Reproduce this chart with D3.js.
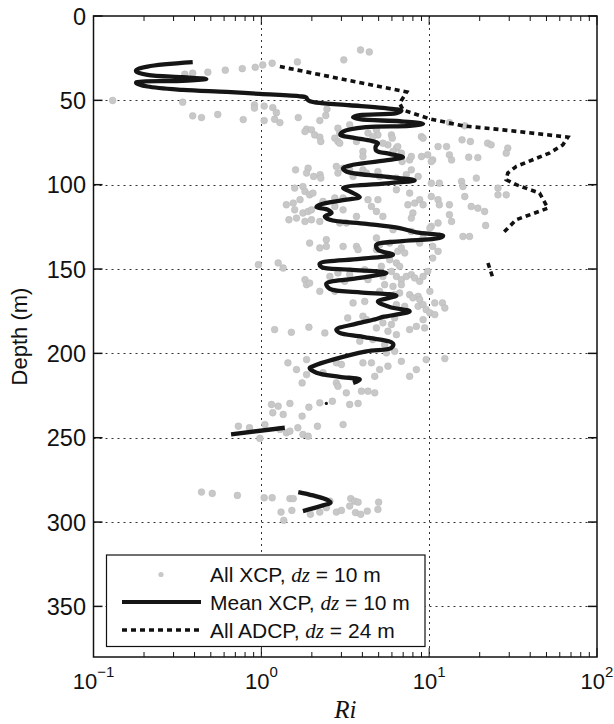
<!DOCTYPE html>
<html><head><meta charset="utf-8">
<script src="https://cdn.jsdelivr.net/npm/d3@7"></script>
<style>body{margin:0;background:#fff}svg{display:block}</style>
</head><body><svg id="c" width="614" height="724"></svg>
<script>
// ---------- data ----------
const xDomain = [0.1, 100];
const yDomain = [0, 380];
const xTickValues = [0.1, 1, 10, 100];
const xTickExps = ["\u22121", "0", "1", "2"];
const yTickValues = [0, 50, 100, 150, 200, 250, 300, 350];
const xGridValues = [1, 10];
const yGridValues = [50, 100, 150, 200, 250, 300, 350];
const legendLabels = ["All XCP, ", "Mean XCP, ", "All ADCP, "];
const legendTails = [" = 10 m", " = 10 m", " = 24 m"];

// All XCP points: [Ri, depth]
const xcpPoints = [
[3.9,20.1],[4.4,21.3],[3.1,26],[1.64,27.2],[1.16,28],[1.02,29],[0.92,30.4],[0.77,31.2],[0.61,32.1],[0.48,33.3],[0.39,33.9],[0.35,34.5],
[0.13,50.1],[0.34,51.1],[0.91,52.7],[0.91,54.6],[1.04,53.4],[1.17,54.3],[1.23,57.3],[1.29,63.2],[1.20,61.2],[1.04,62],[1.66,60.2],[2.23,62],[2.42,59],[2.46,55.2],[0.39,59.2],[0.44,60.2],[0.55,58.4],[0.78,61.4],
[1.86,67.1],[1.99,67.5],[2.08,70.5],[2.23,71.8],[2.26,74.4],[1.82,68.5],[2.86,66.5],[2.93,69.4],[2.74,72.4],[2.86,74.4],[2.93,75.4],[3.36,64.5],[4.32,69.4],[4.85,67.5],[4.95,70.5],[4.62,71.5],[5.96,70.5],[6.03,72.4],[5.68,76.4],[6.38,78.3],[6.09,80.3],[6.83,81.3],[6.9,86.3],[4.03,80.3],[4.03,83.3],[3.69,74.4],[5.3,75.4],[6.5,77.4],[7.65,85.3],[7.83,83.3],[8.99,71.5],[9.2,72.4],[9.0,83.3],[9.8,82.3],[10.5,85.3],[10.3,86.3],[11.3,77.4],[12.7,77.4],[13.2,82.3],[13.6,85.3],[15.7,73.4],[17.6,74.4],[17.2,83.7],[19.5,83.9],[13.2,63.2],[16.3,65.1],[22.3,75.4],[23.4,76.4],[29.4,78.3],[28.8,81.3],
[1.60,91.2],[1.90,90.2],[1.86,93.1],[2.05,95.1],[2.24,94.1],[2.26,96.1],[2.80,89.2],[2.86,93.1],[3.07,90.2],[3.36,91.2],[3.52,95.1],[4.03,91.2],[4.23,93.1],[4.95,92.2],[5.07,95.1],[6.38,96.1],[7.31,94.1],[7.83,91.2],[8.6,95.1],[10.3,99.1],[11.5,99.1],[15.6,98.1],[15.9,101.1],[19.1,96.1],
[25.7,102],[25.7,106],[28.8,106],[1.58,102],[1.77,101.1],[1.82,104],[1.94,106],[2.03,105],[1.70,108.9],[1.55,110.9],[1.41,111.9],[1.58,114.9],[1.77,116.8],[1.9,115.9],[1.99,114.9],[1.46,120.8],[1.62,119.8],[1.82,121.8],[1.99,120.8],[2.23,121.8],[2.74,107.9],[2.74,112.9],[3.07,114.9],[2.93,122.7],[3.69,118.8],[2.33,109.9],[3.07,107.9],[3.21,122.7],[4.32,108.9],[4.95,108.9],[4.53,112.9],[4.85,115.9],[5.3,118.8],[6.38,103],[7.65,105],[7.47,111.9],[8.2,110.9],[8.78,108.9],[9.2,111.9],[10.3,107],[11.3,108.9],[11.5,111.9],[11.3,122.7],[10.3,124.7],[13.2,111.9],[13.2,117.8],[13.6,121.8],[8.0,116.8],[7.83,119.8],[17.8,112.9],[19.5,113.9],[21.4,115.9],[16.3,107],[21.7,124.2],[10.1,125.7],[7.83,127.7],[6.09,126.7],[4.85,131.6],[2.44,132.6],[15.9,130.7],[17.4,130.7],
[1.94,134.6],[2.23,137.5],[2.44,136.6],[3.07,136.6],[3.69,136.6],[3.77,138.5],[4.85,138.5],[5.07,135.6],[5.82,134.6],[6.5,139.5],[6.83,137.5],[7.15,140.5],[8.78,134.6],[10.5,136.6],[11.3,139.5],[10.5,143.5],[9.2,131.6],[0.96,147.4],[1.26,146.4],[1.35,149.4],[5.82,144.5],[6.38,146.4],[6.67,148.4],[1.82,156.3],[1.86,159.3],[1.94,158.3],[2.23,163.2],[2.56,154.4],[2.86,152.3],[3.14,157.3],[4.32,156.3],[5.3,154.4],[5.43,159.3],[5.96,151.4],[6.38,154.4],[6.83,156.3],[7.31,154.4],[7.83,153.3],[8.2,155.3],[8.78,157.3],[9.2,154.4],[9.8,151.4],[10.1,163.2],[6.67,164.2],[7.65,165.2],[8.6,166.2],[4.13,150.4],[5.19,148.4],[3.36,153.3],
[2.74,163.2],[3.52,170.1],[4.13,169.2],[5.07,163.2],[6.09,160.3],[6.83,159.3],[6.23,165.2],[6.38,171.1],[7.15,172.1],[7.31,175.1],[8.0,167.1],[8.78,168.1],[8.6,172.1],[9.2,171.1],[9.6,174.1],[10.1,176],[10.8,177],[12.0,170.1],[12.4,173.1],[10.8,170.1],[9.2,180],[3.27,179],[4.03,178],[4.23,180],[5.3,181.9],[5.96,182.9],[6.23,179],[4.85,184.9],[5.68,186.9],[7.65,185.9],[8.39,184],[9.4,184.9],[1.20,185.9],[1.51,187.5],[1.92,184.5],[2.39,187.9],[3.86,192.8],[4.61,191.8],[5.43,194.8],[5.56,199.7],[6.23,198.8],[6.38,188.9],
[1.44,205.6],[1.62,209.6],[1.86,203.7],[1.86,212.6],[1.75,217.5],[2.80,205.6],[3.0,206.6],[2.33,211.5],[2.80,217.5],[2.86,219.5],[3.21,223.4],[4.03,205.6],[4.53,205.6],[5.07,209.6],[5.68,207.6],[4.74,213.6],[6.83,204.7],[7.65,213.6],[8.39,209.6],[9.6,203.7],[12.4,203.1],[3.95,222.4],[4.32,222.4],[4.74,223.4],
[1.15,230.3],[1.26,231.3],[1.48,229.7],[1.17,235.2],[1.35,236.2],[1.92,231.9],[2.23,229.3],[2.65,228.4],[3.36,230.3],[3.77,229.7],[1.75,237.2],[0.73,243.2],[0.85,244.1],[1.05,242.2],[1.29,245.1],[1.41,247.1],[1.48,246.1],[1.65,244.1],[1.77,248.1],[1.9,249.1],[2.16,243.2],[3.07,242.2],[0.98,250.4],
[0.44,282.2],[0.51,283],[0.72,284.2],[1.04,285.6],[1.16,285.6],[1.48,286.1],[1.55,286.1],[1.31,294.1],[1.52,293.1],[1.36,299],[1.96,295.4],[2.23,294.1],[2.56,287.6],[2.44,291.5],[2.80,294.1],[3.0,293.1],[3.41,286.1],[3.60,287.6],[3.77,288.2],[3.36,290.5],[3.64,294.4],[3.91,295.4],[4.28,293.5],[4.95,292.5],[5.0,288.2]
];

// Mean XCP profile segments: [Ri, depth]
const meanSeg1 = [
[0.39,27.4],[0.21,30],[0.18,32],[0.18,33],[0.21,34.9],[0.34,36.3],[0.47,37.3],[0.34,38.5],[0.18,39.3],[0.18,39.8],[0.21,41.8],[0.34,43.8],[0.62,45],[0.98,46.2],[1.70,47.6],[1.85,48.3],[1.88,49.5],[1.95,50.6],[2.13,51.3],[3.36,52.9],[5.3,54.5],[6.83,56.1],[6.38,57.6],[3.86,58.8],[3.52,60],[3.86,61.2],[6.67,62.4],[9.2,63.9],[7.65,65.1],[4.23,65.9],[3.07,68.5],[2.96,70.5],[3.36,71.8],[4.42,73.8],[4.95,75.4],[4.8,77.4],[4.85,79.9],[5.82,81.7],[6.98,83.7],[5.82,85.3],[3.52,88.2],[3.07,90.2],[3.21,92.2],[5.3,95.1],[8.2,97.5],[5.82,99.1],[3.07,102],[3.36,104],[3.86,107.3],[3.21,108.9],[2.23,111.9],[2.13,113.3],[2.5,114.9],[2.62,116.8],[2.39,118.8],[2.56,120.8],[4.23,123.2],[6.67,125.7],[8.39,128.3],[12.1,130.3],[11.5,131.6],[6.67,133.6],[4.85,135.6],[4.95,138.5],[6.09,141.5],[3.86,144],[2.23,146.8],[2.28,148.8],[3.36,150.4],[5.56,152.3],[3.86,155.3],[2.44,158.7],[2.56,161.8],[3.86,163.8],[6.38,165.8],[4.95,169.2],[5.82,172.5],[7.65,175.1],[5.3,178.4],[4.85,179.6],[3.69,182.4],[2.8,185.9],[2.93,187.9],[4.03,190.2],[6.09,194.2],[5.96,196.7],[4.23,198.8],[2.67,203.7],[2.03,207.6],[1.94,208.6],[2.13,211.5],[2.93,213.9],[3.86,215.5],[3.52,217.5]
];
const meanDot = [[2.44, 229.7]];
const meanSeg2 = [[0.66,248],[1.38,244.1]];
const meanSeg3 = [[1.66,282.2],[2.03,284.2],[2.5,287.1],[2.58,288.5],[2.33,290.1],[1.77,293.5]];

// All ADCP segments: [Ri, depth]
const adcpSeg1 = [
[1.29,30],[7.35,45],[6.67,51.7],[6.98,55.7],[10.1,61],[15.9,65.1],[27.5,67.5],[67,71.8],[62.6,76.4],[52,81.3],[33,89.2],[29.4,93.1],[28.8,97.1],[33,100],[45.5,105],[51,113.9],[33,120.8],[27.5,128.7]
];
const adcpSeg2 = [[22.4,146.4],[23.8,154.4]];

// ---------- drawing ----------
const svg = d3.select("#c");
const L = 93.5, R = 597, T = 16, B = 657;
const x = d3.scaleLog().domain(xDomain).range([L, R]);
const y = d3.scaleLinear().domain(yDomain).range([T, B]);
const FONT = "Arial, 'Liberation Sans', Helvetica, sans-serif";
const SERIF = "'Liberation Serif', 'Times New Roman', serif";

svg.append("rect").attr("width",614).attr("height",724).attr("fill","#fff");

svg.append("defs").append("clipPath").attr("id","clip")
  .append("rect").attr("x",L).attr("y",T).attr("width",R-L).attr("height",B-T);

// grid
const grid = svg.append("g").attr("stroke","#333").attr("stroke-width",1).attr("stroke-dasharray","2,4");
grid.selectAll("line.v").data(xGridValues).join("line").attr("class","v")
  .attr("x1",d=>Math.round(x(d))+0.5).attr("x2",d=>Math.round(x(d))+0.5).attr("y1",T).attr("y2",B);
grid.selectAll("line.h").data(yGridValues).join("line").attr("class","h")
  .attr("y1",d=>Math.round(y(d))+0.5).attr("y2",d=>Math.round(y(d))+0.5).attr("x1",L).attr("x2",R);

const plot = svg.append("g").attr("clip-path","url(#clip)");

// scatter
plot.append("g").selectAll("circle").data(xcpPoints).join("circle")
  .attr("cx",d=>x(d[0])).attr("cy",d=>y(d[1])).attr("r",3.4)
  .attr("fill","#c8c8c8").attr("stroke","#b9b9b9").attr("stroke-width",0.5);

// ADCP dotted
const lin = d3.line().x(d=>x(d[0])).y(d=>y(d[1]));
[adcpSeg1, adcpSeg2].forEach(s=>{
  plot.append("path").attr("d",lin(s)).attr("fill","none").attr("stroke","#111")
    .attr("stroke-width",3.6).attr("stroke-dasharray","5,4");
});

// Mean line
const smooth = d3.line().x(d=>x(d[0])).y(d=>y(d[1])).curve(d3.curveCatmullRom.alpha(0.5));
[meanSeg1, meanSeg2, meanSeg3].forEach(s=>{
  plot.append("path").attr("d",smooth(s)).attr("fill","none").attr("stroke","#151515")
    .attr("stroke-width",4.3).attr("stroke-linejoin","round").attr("stroke-linecap","butt");
});
plot.selectAll("circle.md").data(meanDot).join("circle").attr("class","md")
  .attr("cx",d=>x(d[0])).attr("cy",d=>y(d[1])).attr("r",1.6).attr("fill","#151515");

// frame
svg.append("rect").attr("x",L).attr("y",T).attr("width",R-L).attr("height",B-T)
  .attr("fill","none").attr("stroke","#111").attr("stroke-width",1.5);

// ticks
const tk = svg.append("g").attr("stroke","#111").attr("stroke-width",1);
const minor = [];
for (let e=-1;e<2;e++) for (let k=2;k<=9;k++) minor.push(k*Math.pow(10,e));
minor.forEach(v=>{
  const px = x(v);
  tk.append("line").attr("x1",px).attr("x2",px).attr("y1",B).attr("y2",B-5);
  tk.append("line").attr("x1",px).attr("x2",px).attr("y1",T).attr("y2",T+5);
});
xTickValues.forEach(v=>{
  const px = x(v);
  tk.append("line").attr("x1",px).attr("x2",px).attr("y1",B).attr("y2",B-9);
  tk.append("line").attr("x1",px).attr("x2",px).attr("y1",T).attr("y2",T+9);
});
yTickValues.forEach(v=>{
  const py = y(v);
  tk.append("line").attr("x1",L).attr("x2",L+9).attr("y1",py).attr("y2",py).attr("stroke-width",1.5);
  tk.append("line").attr("x1",R).attr("x2",R-9).attr("y1",py).attr("y2",py).attr("stroke-width",1.5);
});

// y tick labels
svg.append("g").selectAll("text").data(yTickValues).join("text")
  .attr("x",86).attr("y",d=>y(d)+8.5).attr("text-anchor","end")
  .attr("font-family",FONT).attr("font-size",23.5).attr("fill","#111").text(d=>d);

// x tick labels
xTickValues.forEach((v,i)=>{
  const t = svg.append("text").attr("x",x(v)).attr("y",689).attr("text-anchor","middle")
    .attr("font-family",FONT).attr("font-size",22).attr("fill","#111");
  t.append("tspan").text("10");
  t.append("tspan").attr("dy",-12).attr("font-size",15).text(xTickExps[i]);
});

// axis titles
svg.append("text").attr("x",(L+R)/2).attr("y",718).attr("text-anchor","middle")
  .attr("font-family",SERIF).attr("font-style","italic")
  .attr("font-size",25).attr("fill","#111").text("Ri");
svg.append("text").attr("transform",`translate(27,${(T+B)/2}) rotate(-90)`).attr("text-anchor","middle")
  .attr("font-family",FONT).attr("font-size",22).attr("fill","#111").text("Depth (m)");

// legend
const lg = svg.append("g");
lg.append("rect").attr("x",106.5).attr("y",555).attr("width",318.5).attr("height",91.5)
  .attr("fill","#fff").attr("stroke","#111").attr("stroke-width",1.2);
const rowY = [574.5, 602, 630];
lg.append("circle").attr("cx",161).attr("cy",rowY[0]).attr("r",2.6).attr("fill","#c8c8c8");
lg.append("line").attr("x1",122).attr("x2",201).attr("y1",rowY[1]).attr("y2",rowY[1])
  .attr("stroke","#151515").attr("stroke-width",4);
lg.append("line").attr("x1",122).attr("x2",201).attr("y1",rowY[2]).attr("y2",rowY[2])
  .attr("stroke","#111").attr("stroke-width",3.6).attr("stroke-dasharray","5,4");
legendLabels.forEach((lab,i)=>{
  const t = lg.append("text").attr("x",210).attr("y",rowY[i]+7.5).attr("font-family",FONT)
    .attr("font-size",21).attr("fill","#111");
  t.append("tspan").text(lab);
  t.append("tspan").attr("font-family",SERIF).attr("font-style","italic").text("dz");
  t.append("tspan").text(legendTails[i]);
});
</script></body></html>
